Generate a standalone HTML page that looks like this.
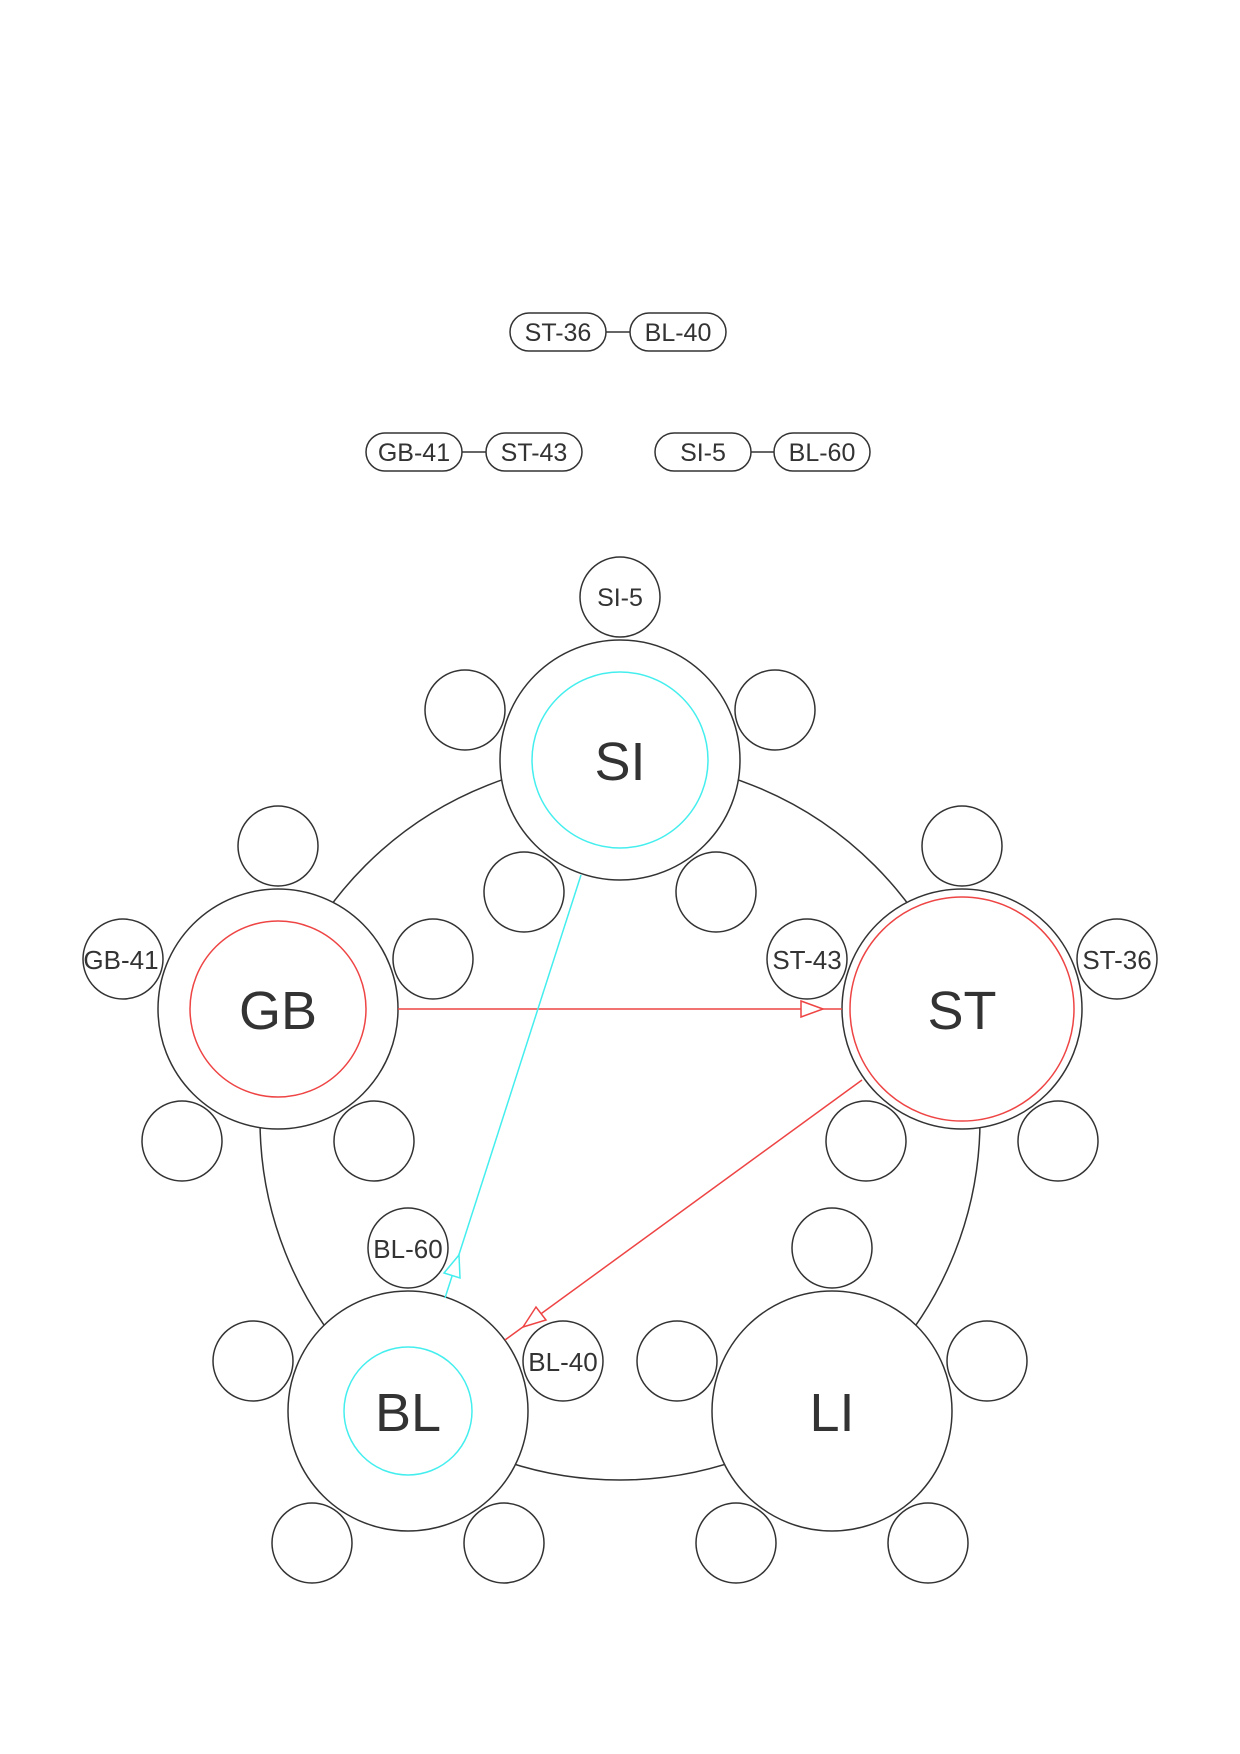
<!DOCTYPE html>
<html><head><meta charset="utf-8"><style>
html,body{margin:0;padding:0;background:#fff}
svg{display:block}
text{font-family:"Liberation Sans",sans-serif;fill:#333;text-anchor:middle;dominant-baseline:central}
</style></head><body>
<svg width="1240" height="1754" viewBox="0 0 1240 1754" xmlns="http://www.w3.org/2000/svg">
<g fill="#fff" stroke="#333" stroke-width="1.5">
<!-- top pills -->
<line x1="606" y1="332" x2="630" y2="332"/>
<rect x="510" y="313" width="96" height="38" rx="19"/><text x="558" y="333" font-size="25" stroke="none">ST-36</text>
<rect x="630" y="313" width="96" height="38" rx="19"/><text x="678" y="333" font-size="25" stroke="none">BL-40</text>
<line x1="462" y1="452" x2="486" y2="452"/>
<rect x="366" y="433" width="96" height="38" rx="19"/><text x="414" y="453" font-size="25" stroke="none">GB-41</text>
<rect x="486" y="433" width="96" height="38" rx="19"/><text x="534" y="453" font-size="25" stroke="none">ST-43</text>
<line x1="751" y1="452" x2="774" y2="452"/>
<rect x="655" y="433" width="96" height="38" rx="19"/><text x="703" y="453" font-size="25" stroke="none">SI-5</text>
<rect x="774" y="433" width="96" height="38" rx="19"/><text x="822" y="453" font-size="25" stroke="none">BL-60</text>

<circle cx="620" cy="1120" r="360" fill="none"/>

<!-- SI -->
<circle cx="620" cy="597" r="40"/><text x="620" y="598" font-size="25" stroke="none">SI-5</text>
<circle cx="465" cy="710" r="40"/><circle cx="775" cy="710" r="40"/>
<circle cx="524" cy="892" r="40"/><circle cx="716" cy="892" r="40"/>
<circle cx="620" cy="760" r="120"/>
<circle cx="620" cy="760" r="88" stroke="#4ee" fill="none"/>
<text x="620" y="762" font-size="54" stroke="none">SI</text>

<!-- GB -->
<circle cx="278" cy="846" r="40"/>
<circle cx="123" cy="959" r="40"/><text x="121" y="960" font-size="26" stroke="none">GB-41</text>
<circle cx="433" cy="959" r="40"/>
<circle cx="182" cy="1141" r="40"/><circle cx="374" cy="1141" r="40"/>
<circle cx="278" cy="1009" r="120"/>
<circle cx="278" cy="1009" r="88" stroke="#e44" fill="none"/>
<text x="278" y="1011" font-size="54" stroke="none">GB</text>

<!-- ST -->
<circle cx="962" cy="846" r="40"/>
<circle cx="807" cy="959" r="40"/><text x="807" y="960" font-size="26" stroke="none">ST-43</text>
<circle cx="1117" cy="959" r="40"/><text x="1117" y="960" font-size="26" stroke="none">ST-36</text>
<circle cx="866" cy="1141" r="40"/><circle cx="1058" cy="1141" r="40"/>
<circle cx="962" cy="1009" r="120"/>
<circle cx="962" cy="1009" r="112" stroke="#e44" fill="none"/>
<text x="962" y="1011" font-size="54" stroke="none">ST</text>

<!-- BL -->
<circle cx="408" cy="1248" r="40"/><text x="408" y="1249" font-size="26" stroke="none">BL-60</text>
<circle cx="253" cy="1361" r="40"/>
<circle cx="563" cy="1361" r="40"/><text x="563" y="1362" font-size="26" stroke="none">BL-40</text>
<circle cx="312" cy="1543" r="40"/><circle cx="504" cy="1543" r="40"/>
<circle cx="408" cy="1411" r="120"/>
<circle cx="408" cy="1411" r="64" stroke="#4ee" fill="none"/>
<text x="408" y="1413" font-size="54" stroke="none">BL</text>

<!-- LI -->
<circle cx="832" cy="1248" r="40"/>
<circle cx="677" cy="1361" r="40"/><circle cx="987" cy="1361" r="40"/>
<circle cx="736" cy="1543" r="40"/><circle cx="928" cy="1543" r="40"/>
<circle cx="832" cy="1411" r="120"/>
<text x="832" y="1413" font-size="54" stroke="none">LI</text>
</g>

<!-- edges -->
<g fill="#fff" stroke-width="1.5">
<line x1="398" y1="1009" x2="842" y2="1009" stroke="#e44"/>
<polygon points="823,1009 801,1001 801,1017" stroke="#e44"/>
<line x1="862" y1="1080" x2="505" y2="1340" stroke="#e44"/>
<polygon points="523,1327 546,1320 536,1307" stroke="#e44"/>
<line x1="581" y1="875" x2="445" y2="1298" stroke="#4ee"/>
<polygon points="459,1255 460,1278 444,1273" stroke="#4ee"/>
</g>
</svg>
</body></html>
